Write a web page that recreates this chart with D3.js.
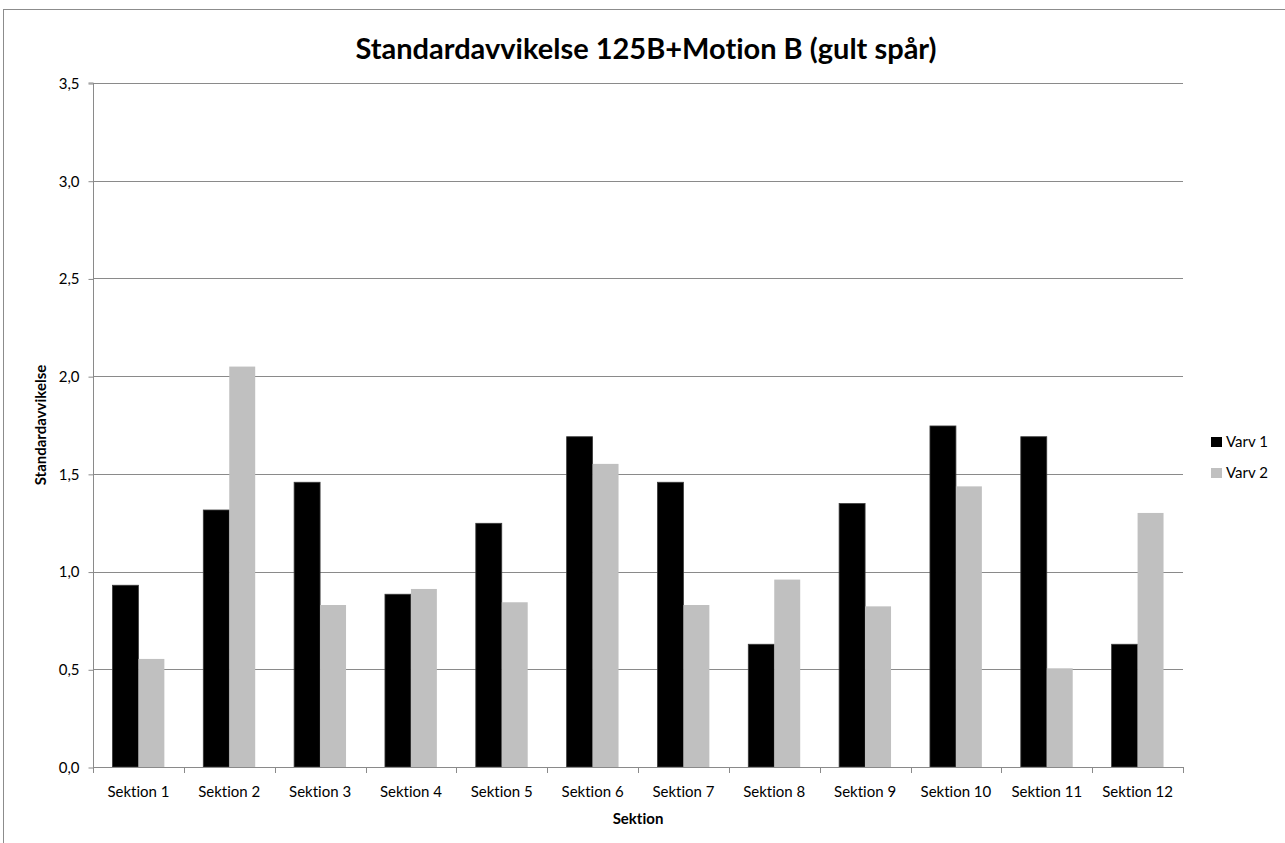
<!DOCTYPE html>
<html>
<head>
<meta charset="utf-8">
<script src="https://cdn.jsdelivr.net/npm/d3@7"></script>
<style>
html,body{margin:0;padding:0;background:#fff;}
svg{display:block;font-family:Lato, "Open Sans", sans-serif;font-variant-ligatures:none;font-feature-settings:"liga" 0, "clig" 0;}
</style>
</head>
<body>
<svg id="chart" width="1285" height="843"></svg>
<script>
const categories = ["Sektion 1","Sektion 2","Sektion 3","Sektion 4","Sektion 5","Sektion 6","Sektion 7","Sektion 8","Sektion 9","Sektion 10","Sektion 11","Sektion 12"];
const varv1 = [0.93,1.315,1.457,0.884,1.247,1.69,1.457,0.628,1.348,1.745,1.69,0.628];
const varv2 = [0.553,2.049,0.829,0.911,0.843,1.551,0.829,0.959,0.822,1.436,0.505,1.30];
const seriesNames = ["Varv 1","Varv 2"];
const seriesColors = ["#000000","#c0c0c0"];
const yTicks = [0,0.5,1.0,1.5,2.0,2.5,3.0,3.5];
const titleText = "Standardavvikelse 125B+Motion B (gult spår)";
const xTitle = "Sektion";
const yTitle = "Standardavvikelse";

const svg = d3.select("#chart");
const L = 93, R = 1183, T = 83, B = 767;
const gridColor = "#8a8a8a";

// frame
svg.append("rect").attr("x",3.5).attr("y",9.5).attr("width",1400).attr("height",1000)
  .attr("fill","none").attr("stroke","#8c8c8c").attr("stroke-width",1);

const x = d3.scaleBand().domain(categories).range([L,R]).padding(0);
const y = d3.scaleLinear().domain([0,3.5]).range([B,T]);

// gridlines
svg.append("g").selectAll("line").data(yTicks.filter(d=>d>0)).join("line")
  .attr("x1",L).attr("x2",R)
  .attr("y1",d=>Math.round(y(d))+0.5).attr("y2",d=>Math.round(y(d))+0.5)
  .attr("stroke",gridColor).attr("stroke-width",1);

// y axis
const fmt = d => d3.format(".1f")(d).replace(".",",");
const yAxis = d3.axisLeft(y).tickValues(yTicks).tickFormat(fmt).tickSize(5).tickPadding(9);
const gy = svg.append("g").attr("transform",`translate(${L+0.5},0.5)`).call(yAxis);
gy.select(".domain").attr("stroke",gridColor).attr("d",`M-5,${T-0.5}H0V${B}`);
gy.selectAll(".tick line").attr("stroke",gridColor);
gy.selectAll(".tick text").attr("font-size",15).attr("fill","#000").attr("font-family","Lato");

// bars
const bw = x.bandwidth();
const barW = bw/3.5;
const data = categories.map((c,i)=>({c, v:[varv1[i],varv2[i]]}));
const groups = svg.append("g").selectAll("g").data(data).join("g");
groups.selectAll("rect").data(d=>d.v.map((v,k)=>({c:d.c,v,k}))).join("rect")
  .attr("x",d=>x(d.c)+0.75*barW + d.k*barW)
  .attr("width",barW)
  .attr("y",d=>y(d.v))
  .attr("height",d=>y(0)-y(d.v))
  .attr("fill",d=>seriesColors[d.k])
  .attr("stroke",d=>d.k===0?"#3a3a3a":"none")
  .attr("stroke-width",0.8);

// x axis
const gx = svg.append("g");
gx.append("line").attr("x1",L).attr("x2",R).attr("y1",B+0.5).attr("y2",B+0.5).attr("stroke",gridColor);
const bounds = categories.map(c=>x(c)).concat([R]);
gx.selectAll("line.tk").data(bounds).join("line").attr("class","tk")
  .attr("x1",d=>Math.round(d)+0.5).attr("x2",d=>Math.round(d)+0.5)
  .attr("y1",B).attr("y2",B+6).attr("stroke",gridColor);
gx.selectAll("text").data(categories).join("text")
  .attr("x",d=>x(d)+bw/2).attr("y",797)
  .attr("text-anchor","middle").attr("font-size",15).text(d=>d);

// titles
svg.append("text").attr("x",646).attr("y",59).attr("text-anchor","middle")
  .attr("font-size",29).attr("font-weight","bold").text(titleText);
svg.append("text").attr("x",638).attr("y",824).attr("text-anchor","middle")
  .attr("font-size",15).attr("font-weight","bold").text(xTitle);
svg.append("text").attr("transform",`translate(46,${(T+B)/2}) rotate(-90)`)
  .attr("text-anchor","middle").attr("font-size",15).attr("font-weight","bold").text(yTitle);

// legend
const lg = svg.append("g");
seriesNames.forEach((n,i)=>{
  const yy = 437 + i*31;
  lg.append("rect").attr("x",1211).attr("y",yy).attr("width",11).attr("height",10).attr("fill",seriesColors[i]);
  lg.append("text").attr("x",1226).attr("y",yy+10).attr("font-size",15).text(n);
});
</script>
</body>
</html>
